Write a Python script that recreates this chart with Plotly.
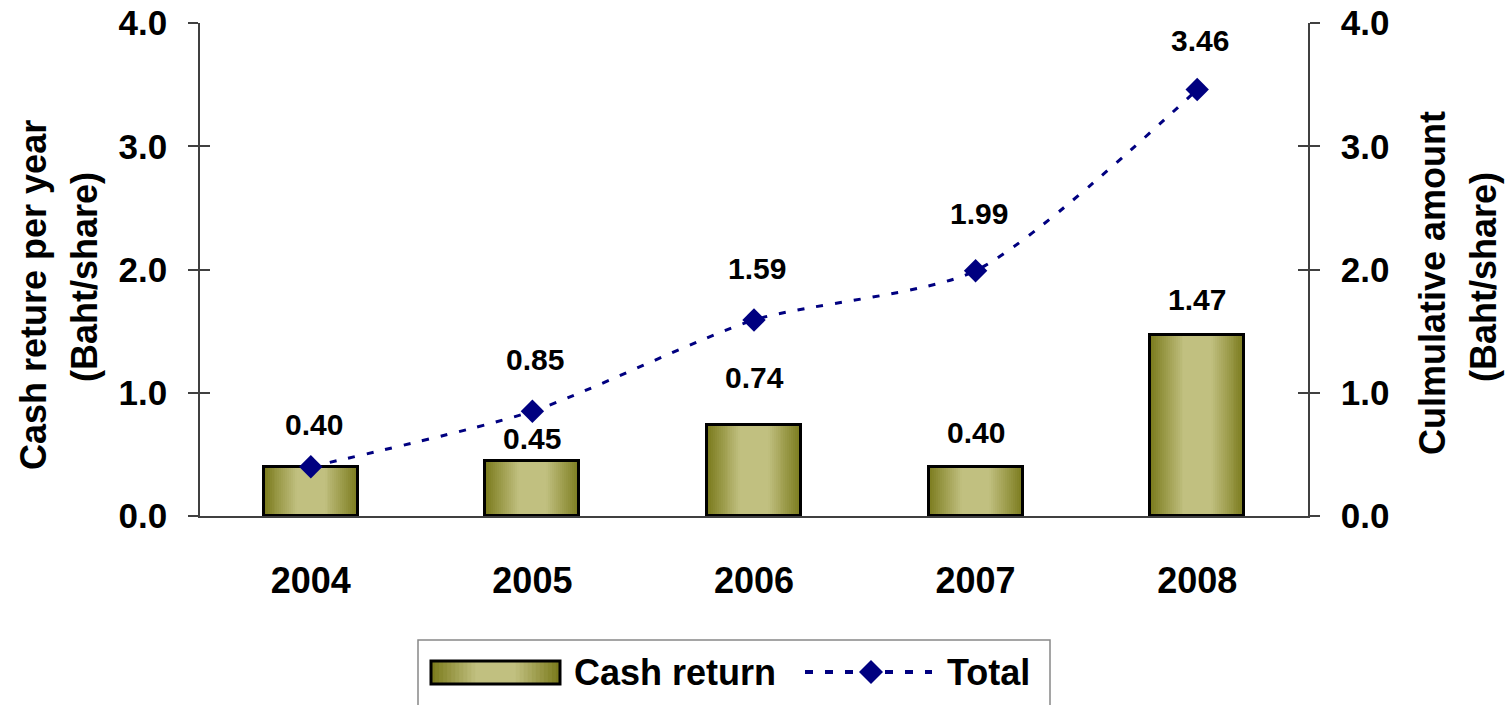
import plotly.graph_objects as go

# ---------------- data ----------------
years = ["2004", "2005", "2006", "2007", "2008"]
cash_return = [0.40, 0.45, 0.74, 0.40, 1.47]
total = [0.40, 0.85, 1.59, 1.99, 3.46]
y_tick_vals = [0, 1, 2, 3, 4]
y_tick_text = ["0.0", "1.0", "2.0", "3.0", "4.0"]

# label vertical offsets (px) above each mark (styling only)
bar_label_shift = [None, 22, 47, 34, 35]
line_label_shift = [42, 52, 52, 57, 49]

FONT = "Arial, Liberation Sans, sans-serif"
DARK = (124, 124, 30)
LIGHT = (193, 192, 128)
NAVY = "#000080"

W, H = 1506, 705
L, R, T, B = 200, 198, 23, 189
PW, PH = W - L - R, H - T - B


def mix(t):
    return "rgb(%d,%d,%d)" % tuple(round(d + (l - d) * t) for d, l in zip(DARK, LIGHT))


def px2paper(x, y):
    return (x - L) / PW, (H - B - y) / PH


BAR_W = 0.425
N = 24
fig = go.Figure()
for i in range(N):
    w = BAR_W * (1 - i / N)
    t = min(1.0, (i / (N - 1)) / 0.72)
    fig.add_trace(go.Bar(x=years, y=cash_return, width=w,
                         marker=dict(color=mix(t), line=dict(width=0)),
                         showlegend=False, hoverinfo="skip"))
fig.add_trace(go.Bar(x=years, y=cash_return, width=BAR_W, name="Cash return",
                     marker=dict(color="rgba(0,0,0,0)", line=dict(color="black", width=3)),
                     showlegend=False))
fig.add_trace(go.Scatter(x=years, y=total, yaxis="y2", name="Total",
                         mode="lines+markers",
                         line=dict(color=NAVY, width=3, dash="7px,12px", shape="spline", smoothing=0.7),
                         marker=dict(symbol="diamond", size=18, color=NAVY),
                         showlegend=False))
# invisible traces to register the inner-tick axes
for ax in ("y3", "y4"):
    fig.add_trace(go.Scatter(x=years, y=total, yaxis=ax, mode="markers",
                             marker=dict(opacity=0), showlegend=False, hoverinfo="skip"))

tickfont = dict(family=FONT, size=35, color="black", weight="bold")
xtickfont = dict(family=FONT, size=36, color="black", weight="bold")
common_y = dict(range=[0, 4], tickvals=y_tick_vals, ticktext=y_tick_text, showgrid=False,
                zeroline=False, automargin=False, fixedrange=True)

fig.update_layout(
    width=W, height=H, margin=dict(l=L, r=R, t=T, b=B),
    paper_bgcolor="white", plot_bgcolor="white",
    barmode="overlay", bargap=0,
    xaxis=dict(type="category", range=[-0.5, 4.5], showgrid=False, ticks="",
               showline=True, linecolor="#404040", linewidth=1.5,
               tickfont=xtickfont, ticklabelstandoff=32, automargin=False),
    yaxis=dict(**common_y, side="left", showline=True, linecolor="#404040", linewidth=1.5,
               ticks="outside", ticklen=10, tickwidth=1.5, tickcolor="#404040",
               tickfont=tickfont, ticklabelstandoff=14),
    yaxis2=dict(**common_y, side="right", overlaying="y", showline=True, linecolor="#404040",
                linewidth=1.5, ticks="outside", ticklen=10, tickwidth=1.5, tickcolor="#404040",
                tickfont=tickfont, ticklabelstandoff=14),
    yaxis3=dict(**common_y, side="left", overlaying="y", showline=False, ticks="inside",
                ticklen=10, tickwidth=1.5, tickcolor="#404040", showticklabels=False),
    yaxis4=dict(**common_y, side="right", overlaying="y", showline=False, ticks="inside",
                ticklen=10, tickwidth=1.5, tickcolor="#404040", showticklabels=False),
)

annots = []
labfont = dict(family=FONT, size=30, color="black", weight="bold")
for i, (v, s) in enumerate(zip(cash_return, bar_label_shift)):
    if s is None:
        continue
    annots.append(dict(x=i, y=v, xref="x", yref="y", text=f"{v:.2f}", showarrow=False,
                       yanchor="middle", yshift=s, font=labfont))
for i, (v, s) in enumerate(zip(total, line_label_shift)):
    annots.append(dict(x=i, y=v, xref="x", yref="y2", text=f"{v:.2f}", showarrow=False,
                       yanchor="middle", yshift=s, xshift=3, font=labfont))

titlefont = dict(family=FONT, size=36, color="black", weight="bold")
for text, cx, cy in [("Cash reture per year", 33, 295), ("(Baht/share)", 84, 277),
                     ("Culmulative amount", 1432, 283), ("(Baht/share)", 1483, 277)]:
    xp, yp = px2paper(cx, cy)
    annots.append(dict(x=xp, y=yp, xref="paper", yref="paper", text=text, textangle=-90,
                       showarrow=False, xanchor="center", yanchor="middle", font=titlefont))

# ---------------- manual legend ----------------
shapes = []
bx0, by0 = px2paper(418, 640)
bx1, by1 = px2paper(1050, 712)
shapes.append(dict(type="rect", xref="paper", yref="paper", x0=bx0, y0=by0, x1=bx1, y1=by1,
                   line=dict(color="#888888", width=1.5), fillcolor="white", layer="below"))
sx0, sx1, sy0, sy1 = 431, 560, 661, 684
NS = 16
for i in range(NS):
    inset = (sx1 - sx0) / 2 * i / NS
    t = min(1.0, (i / (NS - 1)) / 0.72)
    x0, y0 = px2paper(sx0 + inset, sy0)
    x1, y1 = px2paper(sx1 - inset, sy1)
    shapes.append(dict(type="rect", xref="paper", yref="paper", x0=x0, y0=y0, x1=x1, y1=y1,
                       line=dict(width=0), fillcolor=mix(t)))
x0, y0 = px2paper(sx0, sy0)
x1, y1 = px2paper(sx1, sy1)
shapes.append(dict(type="rect", xref="paper", yref="paper", x0=x0, y0=y0, x1=x1, y1=y1,
                   line=dict(color="black", width=3), fillcolor="rgba(0,0,0,0)"))
lx0, ly = px2paper(805, 672)
lx1, _ = px2paper(932, 672)
shapes.append(dict(type="line", xref="paper", yref="paper", x0=lx0, y0=ly, x1=lx1, y1=ly,
                   line=dict(color=NAVY, width=4, dash="8px,12px")))
cx, cy = 871, 672
pts = [px2paper(cx, cy - 12), px2paper(cx + 12, cy), px2paper(cx, cy + 12), px2paper(cx - 12, cy)]
path = "M" + " L".join(f"{a:.5f},{b:.5f}" for a, b in pts) + " Z"
shapes.append(dict(type="path", xref="paper", yref="paper", path=path,
                   fillcolor=NAVY, line=dict(color=NAVY, width=0)))

legfont = dict(family=FONT, size=36, color="black", weight="bold")
tx, ty = px2paper(572, 672)
annots.append(dict(x=tx, y=ty, xref="paper", yref="paper", text="Cash return", showarrow=False,
                   xanchor="left", yanchor="middle", font=legfont))
tx, ty = px2paper(945, 672)
annots.append(dict(x=tx, y=ty, xref="paper", yref="paper", text="Total", showarrow=False,
                   xanchor="left", yanchor="middle", font=legfont))

fig.update_layout(annotations=annots, shapes=shapes)
fig.write_html("out.html", config={"displayModeBar": False},
               post_script="document.body.style.margin='0';document.body.style.overflow='hidden';")
